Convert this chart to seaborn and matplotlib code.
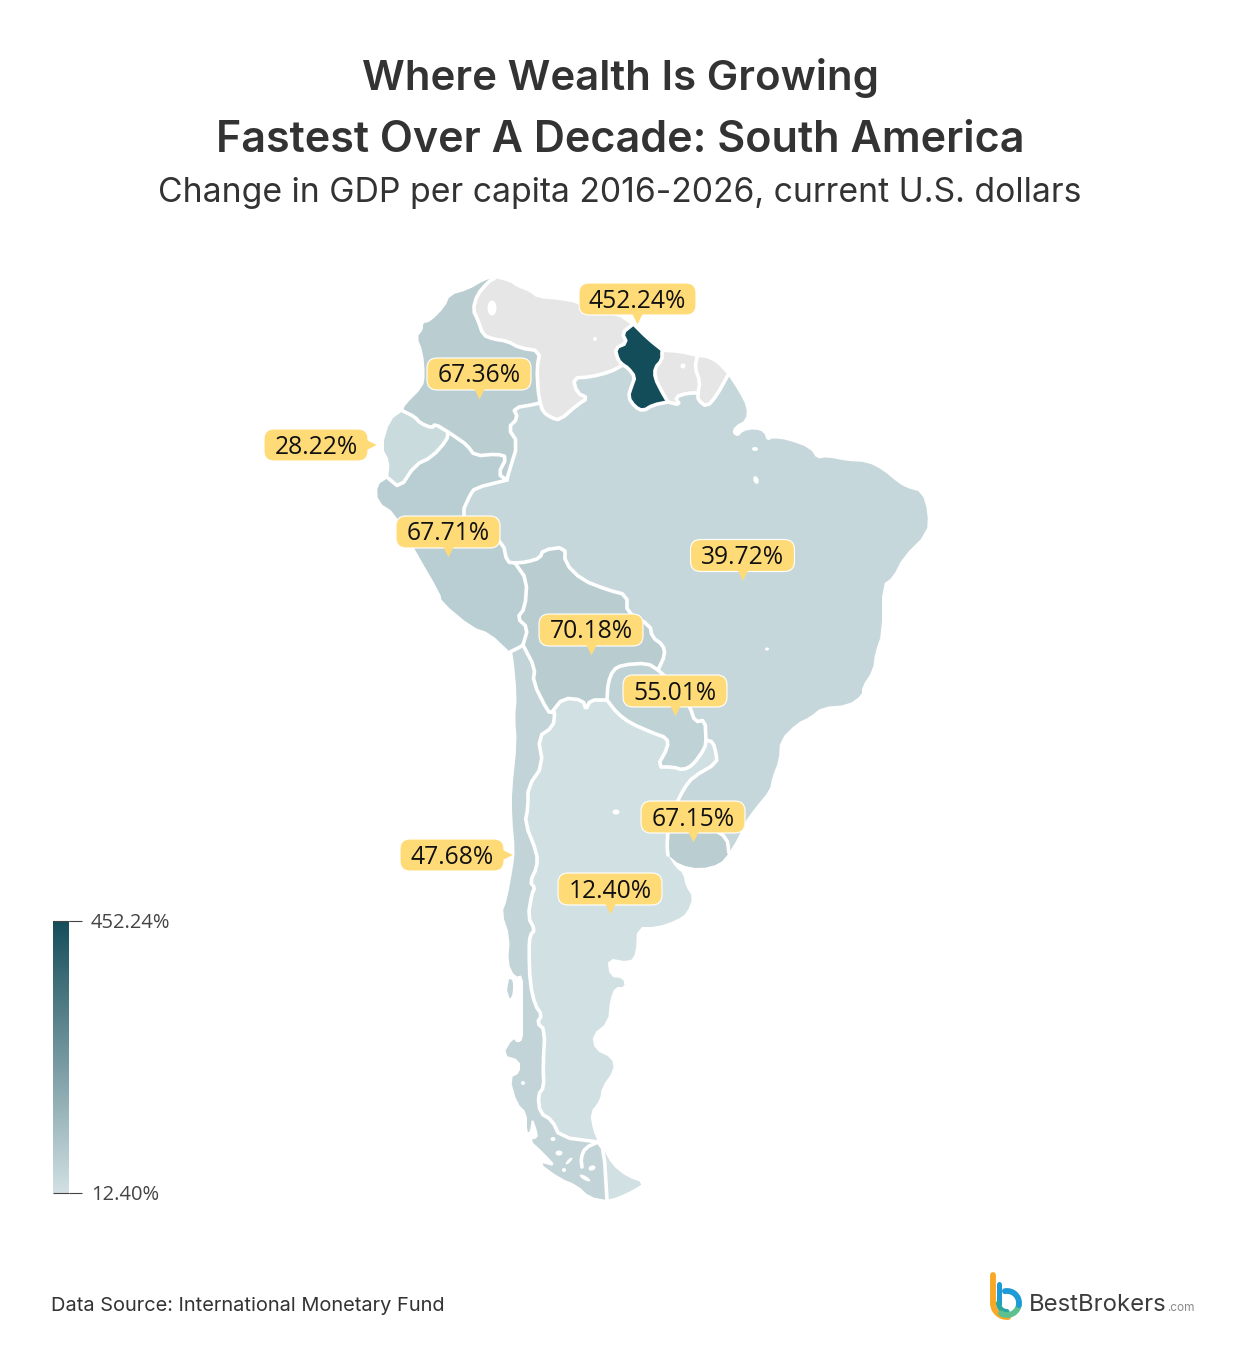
import numpy as np
import pandas as pd
import matplotlib
matplotlib.use("Agg")
import matplotlib.pyplot as plt
import seaborn as sns
from matplotlib.cm import ScalarMappable
from matplotlib.colors import Normalize
from matplotlib.patches import Ellipse, FancyBboxPatch

# values from the chart
countries = ["Guyana", "Bolivia", "Peru", "Colombia", "Uruguay", "Paraguay", "Chile", "Brazil", "Ecuador", "Argentina"]
change_pct = [452.24, 70.18, 67.71, 67.36, 67.15, 55.01, 47.68, 39.72, 28.22, 12.40]

# where each label box sits (centre x, centre y) and which way its pin points
label_x = [637.5, 591, 448, 479, 693, 675, 452, 742.5, 316, 610]
label_y = [299, 630, 532, 374, 817, 691, 855, 555.5, 445, 889]
label_pin = ["v", "v", "v", "v", "v", "v", ">", "v", ">", "v"]

# outlines, in image pixels, one list per border
col_coast = [(495,278),(485,280),(468,290),(450,295),(445,307),(430,322),(423,323),(423,330),(417,337),(423,352),(425,375),(423,387),(405,405),(403,411)]
col_ecu = [(403,411),(415,417),(420,423),(432,428),(435,424),(448,432)]
col_per = [(448,432),(457,438),(467,445),(475,456),(497,454),(507,457),(498,474),(507,480)]
col_bra = [(507,480),(508,475),(518,443),(508,428),(518,418),(513,408),(537,404),(540,402)]
col_ven = [(495,278),(488,282),(477,295),(473,310),(478,320),(483,335),(493,339),(507,341),(520,348),(540,351),(537,368),(538,390),(540,402)]
ven_coast = [(495,278),(510,282),(517,287),(530,292),(537,298),(560,300),(577,303),(593,312),(617,315),(632,325)]
ven_guy = [(632,325),(622,333),(627,343),(615,348),(618,360),(623,365)]
ven_bra = [(623,365),(610,372),(590,377),(573,378),(577,393),(588,398),(577,405),(560,420),(552,418),(543,412),(540,402)]
guy_coast = [(632,325),(647,340),(662,352)]
guy_sur = [(662,352),(662,360),(655,368),(655,378),(662,392),(668,402)]
guy_bra = [(668,402),(653,405),(643,411),(635,407),(628,397),(632,385),(635,377),(628,368),(623,365)]
sur_coast = [(662,352),(680,353),(697,357)]
sur_guf = [(697,357),(695,368),(700,382),(698,393)]
sur_bra = [(698,393),(688,393),(675,397),(680,405),(668,402)]
guf_coast = [(697,357),(707,358),(717,363),(728,375)]
guf_bra = [(728,375),(717,395),(707,407),(698,400),(698,393)]
bra_coast = [(728,375),(738,390),(747,407),(746,420),(735,426),(732,433),(738,437),(743,431),(755,429),(764,432),(767,441),(773,438),(788,440),(810,448),(817,459),(827,457),(847,461),(867,462),(883,470),(897,482),(907,488),(922,492),(928,513),(927,533),(903,557),(893,577),(882,585),(882,633),(875,653),(873,670),(862,687),(862,695),(848,705),(822,707),(810,717),(797,723),(780,740),(779,760),(772,778),(770,790),(755,808),(745,822),(738,838),(729,853)]
uru_bra = [(729,853),(727,838),(712,828),(695,820),(672,815)]
bra_arg = [(672,815),(678,800),(685,787),(693,777),(717,763),(716,753),(713,742),(706,740)]
par_bra = [(658,670),(680,690),(690,707),(695,722),(705,720),(706,740)]
bol_bra = [(515,563),(527,562),(540,558),(543,550),(565,547),(565,563),(582,580),(608,590),(627,595),(627,613),(650,625),(652,637),(663,645),(665,655),(658,670)]
per_bra = [(515,563),(507,562),(503,543),(490,538),(470,530),(462,513),(470,495),(475,488),(507,480)]
ecu_coast = [(403,411),(390,420),(382,447),(390,462),(388,478)]
ecu_per = [(448,432),(447,440),(432,457),(415,465),(400,488),(388,478)]
per_coast = [(388,478),(377,485),(378,502),(395,513),(415,550),(440,593),(442,602),(472,627),(490,633),(510,652)]
per_chi = [(510,652),(520,647),(523,645)]
per_bol = [(523,645),(528,628),(517,618),(525,608),(527,580),(515,563)]
bol_chi = [(523,645),(535,668),(533,682),(548,712),(552,712)]
bol_arg = [(552,712),(563,698),(583,700),(586,710),(590,700),(607,700)]
bol_par = [(607,700),(608,683),(613,670),(622,665),(647,663),(658,670)]
par_arg = [(706,740),(705,748),(693,765),(683,770),(673,767),(657,767),(668,747),(667,738),(653,733),(630,723),(617,713),(607,700)]
uru_arg = [(672,815),(668,830),(667,847),(668,855)]
uru_coast = [(668,855),(680,865),(700,869),(720,864),(729,853)]
arg_coast = [(668,855),(676,868),(683,873),(686,887),(693,897),(687,913),(677,920),(657,927),(637,927),(636,953),(630,962),(607,958),(610,977),(623,978),(625,987),(615,987),(610,1000),(608,1022),(592,1035),(595,1050),(612,1058),(614,1070),(602,1087),(600,1100),(590,1113),(593,1130),(598,1142)]
arg_chi = [(598,1142),(560,1137),(552,1120),(540,1113),(538,1095),(544,1087),(543,1067),(545,1030),(537,1023),(542,1015),(535,1005),(530,983),(529,950),(530,935),(535,930),(528,917),(532,893),(535,888),(530,882),(537,867),(537,853),(525,823),(528,807),(528,787),(543,765),(538,737),(553,727),(555,712),(552,712)]
chi_coast = [(510,652),(513,653),(517,697),(515,717),(517,743),(512,790),(512,817),(515,850),(513,867),(507,900),(502,913),(510,937),(508,963),(515,977),(523,975),(523,1000),(523,1022),(523,1040),(517,1043),(513,1038),(503,1055),(520,1060),(520,1073),(510,1078),(517,1103),(527,1113),(527,1132),(530,1132),(532,1117),(537,1130),(538,1138),(530,1140),(543,1152),(557,1167),(538,1162),(560,1178),(577,1185),(590,1197),(607,1200)]
tdf_border = [(598,1142),(604,1150),(607,1200)]
tdf_coast = [(604,1150),(612,1165),(627,1177),(644,1183),(633,1190),(618,1197),(607,1200)]
chiloe = [(507,990),(510,1000),(513,993),(513,980),(509,979)]
magellan = [(598,1142),(585,1148),(581,1158),(582,1167)]

# white specks for lakes and channels: x, y, width, height, angle
specks = [(492,308,9,15,0),(595,339,4,4,0),(683,366,5,5,0),(755,449,6,4,0),(756,480,5,8,-20),(767,649,4,3,0),(616,812,7,5,0),
          (523,1083,4,4,0),(553,1139,5,4,0),(559,1153,7,5,0),(569,1161,9,3,-45),(564,1170,4,4,0),(592,1168,7,5,-20),(585,1178,12,4,30)]

GREY = "#e6e6e6"
PIN = "#ffdb78"
TEXT = "#333333"


def rounded(seg):
    # one pass of corner cutting, ends stay put so neighbours still meet
    pts = np.array(seg, dtype=float)
    if len(pts) < 3:
        return pts
    q = pts[:-1] * 0.75 + pts[1:] * 0.25
    r = pts[:-1] * 0.25 + pts[1:] * 0.75
    mid = np.empty((2 * len(q), 2))
    mid[0::2] = q
    mid[1::2] = r
    return np.vstack([pts[:1], mid[1:-1], pts[-1:]])


def ring(*parts):
    return np.vstack(parts)


def back(seg):
    return rounded(seg)[::-1]


shapes = {
    "Colombia": ring(rounded(col_coast), rounded(col_ecu), rounded(col_per), rounded(col_bra), back(col_ven)),
    "Venezuela": ring(rounded(ven_coast), rounded(ven_guy), rounded(ven_bra), back(col_ven)),
    "Guyana": ring(rounded(guy_coast), rounded(guy_sur), rounded(guy_bra), back(ven_guy)),
    "Suriname": ring(rounded(sur_coast), rounded(sur_guf), rounded(sur_bra), back(guy_sur)),
    "French Guiana": ring(rounded(guf_coast), rounded(guf_bra), back(sur_guf)),
    "Brazil": ring(rounded(bra_coast), rounded(uru_bra), rounded(bra_arg), back(par_bra), back(bol_bra), rounded(per_bra),
                   rounded(col_bra), back(ven_bra), back(guy_bra), back(sur_bra), back(guf_bra)),
    "Ecuador": ring(rounded(ecu_coast), back(ecu_per), back(col_ecu)),
    "Peru": ring(rounded(ecu_per), rounded(per_coast), rounded(per_chi), rounded(per_bol), rounded(per_bra), back(col_per)),
    "Bolivia": ring(back(per_bol), rounded(bol_chi), rounded(bol_arg), rounded(bol_par), back(bol_bra)),
    "Paraguay": ring(rounded(bol_par), rounded(par_bra), rounded(par_arg)),
    "Uruguay": ring(rounded(uru_bra), rounded(uru_arg), rounded(uru_coast)),
    "Argentina": ring(back(par_arg), back(bra_arg), rounded(uru_arg), rounded(arg_coast), rounded(arg_chi), rounded(bol_arg)),
    "Chile": ring(rounded(chi_coast), back(tdf_border), rounded(arg_chi), back(bol_chi), back(per_chi)),
    "Tierra del Fuego": ring(rounded(tdf_coast), back(tdf_border)[:-2]),
    "Chiloe": rounded(chiloe),
}
same_as = {"Tierra del Fuego": "Argentina", "Chiloe": "Chile"}

inner_borders = [col_ecu, col_per, col_bra, col_ven, ven_guy, ven_bra, guy_sur, guy_bra, sur_guf, sur_bra, guf_bra, uru_bra, bra_arg,
                 par_bra, bol_bra, per_bra, ecu_per, per_chi, per_bol, bol_chi, bol_arg, bol_par, par_arg, uru_arg, arg_chi, tdf_border, magellan]

df = pd.DataFrame({"country": countries, "change": change_pct, "x": label_x, "y": label_y, "pin": label_pin})
values = dict(zip(countries, change_pct))

sns.set_theme(style="white")
plt.rcParams["font.family"] = ["Open Sans", "DejaVu Sans"]

cmap = sns.blend_palette(["#d1e0e3", "#144d5a"], as_cmap=True)
norm = Normalize(min(change_pct), max(change_pct))

fig = plt.figure(figsize=(12.4, 13.45), dpi=100)
ax = fig.add_axes([0, 0, 1, 1])

for name, pts in shapes.items():
    val = values.get(same_as.get(name, name))
    color = cmap(norm(val)) if val is not None else GREY
    ax.fill(pts[:, 0], pts[:, 1], facecolor=color, edgecolor="none", zorder=1)

for seg in inner_borders:
    pts = rounded(seg)
    ax.plot(pts[:, 0], pts[:, 1], color="white", lw=2.6, solid_joinstyle="round", solid_capstyle="round", zorder=2)

for sx, sy, w, h, ang in specks:
    ax.add_patch(Ellipse((sx, sy), w, h, angle=ang, facecolor="white", edgecolor="none", zorder=3))

# yellow value pins
for row in df.itertuples():
    w = 117 if row.change > 100 else 104
    ax.add_patch(FancyBboxPatch((row.x - w / 2 + 10, row.y - 6), w - 20, 12, boxstyle="round,pad=10,rounding_size=10",
                                facecolor=PIN, edgecolor="white", lw=0.8, zorder=4))
    ax.text(row.x, row.y + 2, f"{row.change:.2f}%", ha="center", va="center", fontsize=17.7, color="#111111", zorder=6)

down = df[df["pin"] == "v"]
side = df[df["pin"] == ">"]
sns.scatterplot(x=down["x"] + [0.5 if c < 100 else 0 for c in down["change"]], y=down["y"] + 18.5, marker="v", s=95, color=PIN, edgecolor="none", ax=ax, zorder=5, legend=False)
sns.scatterplot(x=side["x"] + 54, y=side["y"], marker=">", s=95, color=PIN, edgecolor="none", ax=ax, zorder=5, legend=False)

ax.set_xlim(0, 1240)
ax.set_ylim(1345, 0)
ax.axis("off")

# titles
title_font = ["Inter", "DejaVu Sans"]
ax.text(620, 78, "Where Wealth Is Growing", ha="center", va="center", fontsize=30.2, color=TEXT, family=title_font, weight="semibold")
ax.text(620, 140, "Fastest Over A Decade: South America", ha="center", va="center", fontsize=31, color=TEXT, family=title_font, weight="semibold")
ax.text(620, 193, "Change in GDP per capita 2016-2026, current U.S. dollars", ha="center", va="center", fontsize=24.3, color=TEXT, family=title_font)
ax.text(51, 1306, "Data Source: International Monetary Fund", ha="left", va="center", fontsize=14.4, color=TEXT, family=title_font)

# logo
def arc(cx, cy, r, a0, a1):
    t = np.radians(np.linspace(a0, a1, 40))
    return cx + r * np.cos(t), cy + r * np.sin(t)


ax.plot([993, 993], [1275, 1303], color="#f9a825", lw=4.2, solid_capstyle="round", zorder=3)
ax.plot(*arc(1007, 1303, 14, 180, 85), color="#f9a825", lw=4.2, solid_capstyle="round", zorder=3)
ax.plot([998.5, 998.5], [1284, 1304], color="#1e9bd7", lw=3.6, solid_capstyle="round", zorder=4)
ax.plot(*arc(1007, 1303, 8.5, 180, 90), color="#2aa5a0", lw=3.6, solid_capstyle="round", zorder=4)
ax.plot(*arc(1007, 1303, 12, 10, 120), color="#5cc08f", lw=4.2, solid_capstyle="round", zorder=5)
ax.plot(*arc(1007, 1303, 12, -100, 10), color="#1e9bd7", lw=4.2, solid_capstyle="round", zorder=5)
ax.text(1029, 1305, "BestBrokers", ha="left", va="center", fontsize=17.2, color="#3c3c3c", family=title_font)
ax.text(1167, 1308, ".com", ha="left", va="center", fontsize=8.5, color="#8a8a8a", family=title_font)

# colour legend
cax = fig.add_axes([53 / 1240, 1 - 1193 / 1345, 16 / 1240, 272 / 1345])
cbar = fig.colorbar(ScalarMappable(norm=norm, cmap=cmap), cax=cax)
cbar.outline.set_visible(False)
cbar.set_ticks([min(change_pct), max(change_pct)])
cbar.set_ticklabels(["", ""])
cax.tick_params(axis="y", length=9.4, width=0.8, color="#444444", right=True, left=False)
cax.hlines([min(change_pct), max(change_pct)], 0, 1, color="#444444", lw=0.8, clip_on=False)
ax.text(91, 923, f"{max(change_pct):.2f}%", ha="left", va="center", fontsize=14.5, color="#444444")
ax.text(91, 1195, f"{min(change_pct):.2f}%", ha="left", va="center", fontsize=14.5, color="#444444")

fig.savefig("out.png", dpi=100, facecolor="white")
